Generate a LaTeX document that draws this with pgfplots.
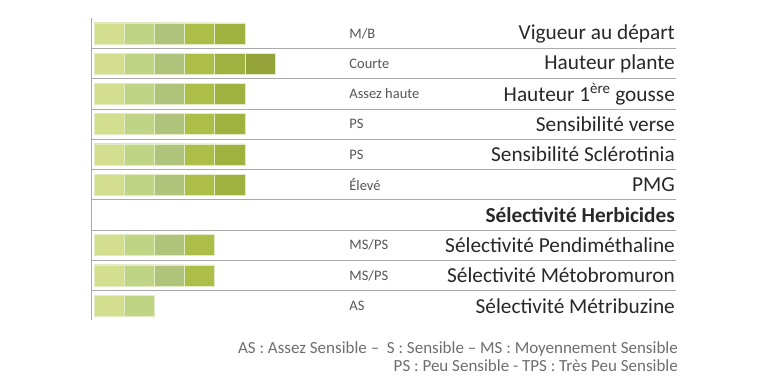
\documentclass[border=0pt]{standalone}
\usepackage{pgfplots}
\pgfplotsset{compat=1.18}
\usepackage{fontspec}
\setmainfont{Carlito}
\definecolor{sa}{RGB}{211,223,143}
\definecolor{sb}{RGB}{191,212,133}
\definecolor{sc}{RGB}{175,196,122}
\definecolor{sd}{RGB}{172,190,71}
\definecolor{se}{RGB}{159,177,63}
\definecolor{sf}{RGB}{148,164,58}
\definecolor{bord}{RGB}{226,236,196}
\definecolor{sep}{RGB}{170,170,170}
\definecolor{lab}{RGB}{40,40,40}
\definecolor{mid}{RGB}{85,85,85}
\definecolor{foot}{RGB}{110,110,110}
\begin{document}
\begin{tikzpicture}
\begin{axis}[
  scale only axis, width=768bp, height=384bp,
  xmin=-3.1126, xmax=22.318, ymin=0, ymax=384,
  hide axis, clip=false,
  xbar, bar shift=0pt, bar width=21,
  every axis plot/.append style={draw=bord, line width=0.7bp},
]
% separators
\draw[sep, line width=0.9bp] (axis cs:-0.1,366) -- (axis cs:-0.1,64);
\pgfplotsinvokeforeach{335.4,305.1,274.9,244.6,214.4,184.1,153.9,123.6,93.4}{
  \draw[sep, line width=0.9bp] (axis cs:-0.1,#1) -- (axis cs:19.27,#1);
}
\addplot[fill=sf] coordinates {(6,320.25)};
\addplot[fill=se] coordinates {(5,350.5) (5,320.25) (5,290) (5,259.75) (5,229.5) (5,199.25)};
\addplot[fill=sd] coordinates {(4,350.5) (4,320.25) (4,290) (4,259.75) (4,229.5) (4,199.25) (4,138.75) (4,108.5)};
\addplot[fill=sc] coordinates {(3,350.5) (3,320.25) (3,290) (3,259.75) (3,229.5) (3,199.25) (3,138.75) (3,108.5)};
\addplot[fill=sb] coordinates {(2,350.5) (2,320.25) (2,290) (2,259.75) (2,229.5) (2,199.25) (2,138.75) (2,108.5) (2,78.25)};
\addplot[fill=sa] coordinates {(1,350.5) (1,320.25) (1,290) (1,259.75) (1,229.5) (1,199.25) (1,138.75) (1,108.5) (1,78.25)};
% middle labels
\begin{scope}[every node/.style={anchor=west, font=\fontsize{14.5bp}{16bp}\selectfont, text=mid, inner sep=0pt}]
\node at (axis cs:8.45,350.5) {M/B};
\node at (axis cs:8.45,320.25) {Courte};
\node at (axis cs:8.45,290) {Assez haute};
\node at (axis cs:8.45,259.75) {PS};
\node at (axis cs:8.45,229.5) {PS};
\node at (axis cs:8.45,199.25) {Élevé};
\node at (axis cs:8.45,138.75) {MS/PS};
\node at (axis cs:8.45,108.5) {MS/PS};
\node at (axis cs:8.45,78.25) {AS};
\end{scope}
% right labels
\begin{scope}[every node/.style={anchor=east, font=\fontsize{21.3bp}{23bp}\selectfont, text=lab, inner sep=0pt}]
\node at (axis cs:19.24,350.5) {Vigueur au départ};
\node at (axis cs:19.24,320.25) {Hauteur plante};
\node at (axis cs:19.24,290) {Hauteur 1\textsuperscript{ère} gousse};
\node at (axis cs:19.24,259.75) {Sensibilité verse};
\node at (axis cs:19.24,229.5) {Sensibilité Sclérotinia};
\node at (axis cs:19.24,199.25) {PMG};
\node at (axis cs:19.24,169) {\bfseries Sélectivité Herbicides};
\node at (axis cs:19.24,138.75) {Sélectivité Pendiméthaline};
\node at (axis cs:19.24,108.5) {Sélectivité Métobromuron};
\node at (axis cs:19.24,78.25) {Sélectivité Métribuzine};
\end{scope}
% footer
\begin{scope}[every node/.style={anchor=east, font=\fontsize{17bp}{18bp}\selectfont, text=foot, inner sep=0pt}]
\node at (axis cs:19.34,35) {AS : Assez Sensible –\ \ S : Sensible – MS : Moyennement Sensible};
\node at (axis cs:19.34,18) {PS : Peu Sensible - TPS : Très Peu Sensible};
\end{scope}
\end{axis}
\pgfresetboundingbox
\path (current axis.south west) rectangle (current axis.north east);
\end{tikzpicture}
\end{document}
